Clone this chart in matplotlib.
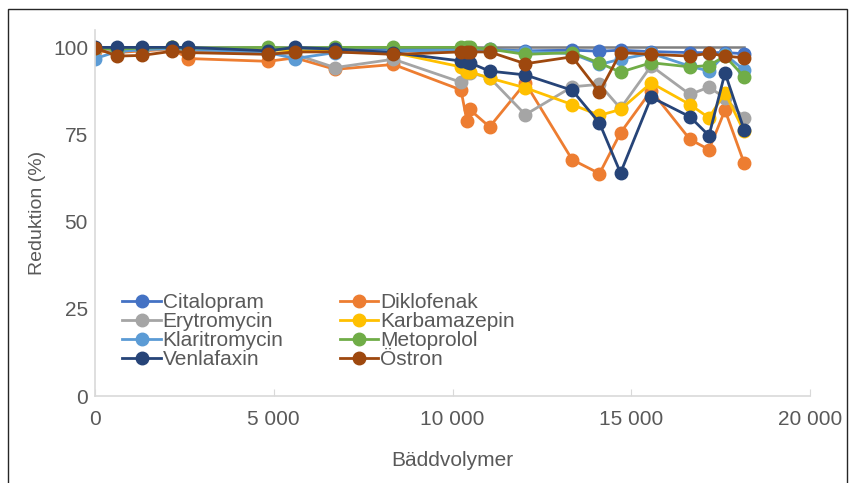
import matplotlib.pyplot as plt
from matplotlib.patches import Rectangle
import numpy as np

plt.rcParams['font.family'] = ['Liberation Sans', 'DejaVu Sans']

# bed volumes sampled (shared by all substances)
bed_volumes = [10, 616, 1317, 2168, 2605, 4846, 5594, 6714, 8347, 10235, 10403,
               10476, 11036, 12036, 13345, 14109, 14697, 15555, 16639, 17171,
               17619, 18151]

citalopram = [99.8, 99.8, 99.8, 99.8, 99.8, 99.5, 99.7, 99.5, 99.5, 99.5, 99.5,
              99.5, 99.4, 99.0, 99.2, 98.9, 99.2, 98.8, 98.5, 98.5, 98.5, 98.2]
diklofenak = [99.0, 98.5, 99.0, 99.5, 96.8, 96.0, 97.0, 93.7, 95.1, 87.8, 78.8,
              82.2, 77.2, 89.8, 67.8, 63.8, 75.5, 87.6, 73.6, 70.7, 82.0, 66.9]
erytromycin = [99.5, 99.0, 99.5, 99.5, 99.2, 98.5, 98.0, 94.2, 96.6, 90.0, 92.7,
               92.7, 91.3, 80.7, 88.7, 89.4, 82.5, 94.7, 86.5, 88.6, 85.5, 79.8]
karbamazepin = [99.8, 99.5, 99.7, 100.0, 99.8, 99.3, 99.0, 98.8, 98.5, 94.4, 92.8,
                93.0, 91.2, 88.4, 83.6, 80.5, 82.2, 89.8, 83.6, 79.8, 87.0, 75.9]
klaritromycin = [96.8, 98.8, 99.3, 99.8, 99.5, 98.5, 96.8, 98.5, 99.0, 99.2, 99.2,
                 99.3, 99.3, 98.8, 98.2, 95.1, 96.6, 98.3, 94.6, 93.2, 98.0, 93.5]
metoprolol = [99.8, 99.5, 99.8, 100.0, 99.8, 100.0, 99.8, 100.0, 100.0, 100.0, 100.0,
              100.0, 99.5, 98.0, 98.5, 95.5, 92.9, 95.6, 94.4, 94.8, 97.5, 91.6]
venlafaxin = [100.0, 100.0, 100.0, 100.0, 100.0, 99.0, 100.0, 99.5, 98.5, 96.1, 95.8,
              95.6, 93.2, 92.1, 87.7, 78.3, 64.0, 85.7, 80.1, 74.7, 92.7, 76.4]
ostron = [99.9, 97.5, 97.7, 98.9, 98.5, 98.0, 98.7, 98.7, 98.0, 98.7, 98.7,
          98.7, 98.7, 95.3, 97.3, 87.2, 98.5, 98.0, 97.5, 98.3, 97.5, 97.0]
full_reduction = [100.0] * len(bed_volumes)

series = [
    ("Citalopram", citalopram, "#4472C4"),
    ("Diklofenak", diklofenak, "#ED7D31"),
    ("Erytromycin", erytromycin, "#A5A5A5"),
    ("Karbamazepin", karbamazepin, "#FFC000"),
    ("Klaritromycin", klaritromycin, "#5B9BD5"),
    ("Metoprolol", metoprolol, "#70AD47"),
    ("Venlafaxin", venlafaxin, "#264478"),
    ("Östron", ostron, "#9E480E"),
]

fig = plt.figure(figsize=(8.51, 4.83), dpi=100)
ax = fig.add_axes([0.1116, 0.18, 0.8404, 0.758])

ax.plot(bed_volumes, full_reduction, color="#7F7F7F", lw=1.8, zorder=1)

lines = {}
for name, vals, col in series:
    ln, = ax.plot(bed_volumes, vals, color=col, lw=2.0, marker="o", ms=9,
                  label=name, zorder=2)
    lines[name] = ln

ax.set_xlim(0, 20000)
ax.set_ylim(0, 105)
ax.set_xticks(np.arange(0, 20001, 5000))
ax.set_yticks([0, 25, 50, 75, 100])
ax.set_xticklabels(["0", "5 000", "10 000", "15 000", "20 000"])

for s in ["top", "right"]:
    ax.spines[s].set_visible(False)
for s in ["left", "bottom"]:
    ax.spines[s].set_color("#D9D9D9")
    ax.spines[s].set_linewidth(1.2)

ax.tick_params(axis="x", direction="in", length=5, color="#D9D9D9",
               labelsize=15, labelcolor="#595959", pad=10)
ax.tick_params(axis="y", length=0, labelsize=15, labelcolor="#595959", pad=5)

ax.set_xlabel("Bäddvolymer", fontsize=15, color="#595959", labelpad=16)
ax.set_ylabel("Reduktion (%)", fontsize=14, color="#595959", labelpad=5)

order = ["Citalopram", "Erytromycin", "Klaritromycin", "Venlafaxin",
         "Diklofenak", "Karbamazepin", "Metoprolol", "Östron"]
leg = ax.legend([lines[n] for n in order], order, ncol=2, loc="upper left",
                bbox_to_anchor=(0.018, 0.32), frameon=False, fontsize=15,
                handlelength=1.85, handletextpad=0.08, labelspacing=0.0,
                columnspacing=2.7, borderpad=0.2)
for t in leg.get_texts():
    t.set_color("#595959")

# outer frame around the chart
fig.patches.append(Rectangle((8 / 851, -0.02), 839 / 851, 1.02 - 9 / 483,
                             transform=fig.transFigure, fill=False,
                             edgecolor="#262626", lw=1.0))

fig.savefig("out.png", dpi=100)
